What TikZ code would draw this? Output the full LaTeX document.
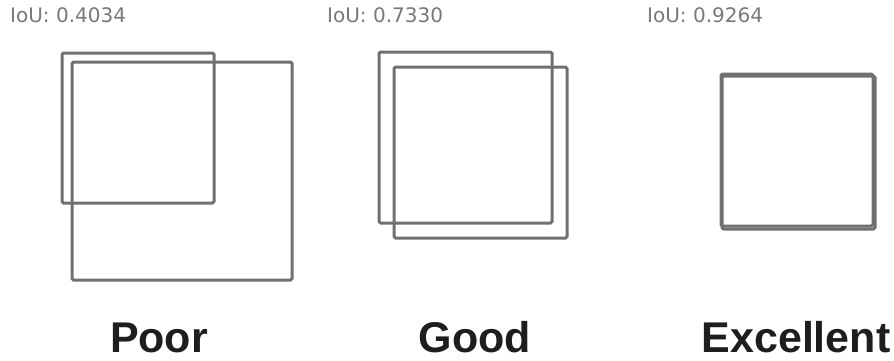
\documentclass[tikz,border=0pt]{standalone}
\usepackage{fontspec}
\setmainfont{Liberation Sans}
\newfontfamily\ioufont{DejaVu Sans}
\usetikzlibrary{positioning}

\definecolor{boxgray}{RGB}{112,112,112}
\definecolor{labelgray}{RGB}{120,120,120}
\definecolor{verdictblack}{RGB}{30,30,30}

\begin{document}
\begin{tikzpicture}[
  x=1pt,
  y=-1pt,
  box/.style={draw=boxgray, line width=3pt, rounded corners=1.5pt},
  iou/.style={anchor=base west, inner sep=0pt, text=labelgray, font=\ioufont\fontsize{20}{20}\selectfont},
  verdict/.style={anchor=base, inner sep=0pt, text=verdictblack, font=\bfseries\fontsize{43}{43}\selectfont}
]
  \useasboundingbox (0,0) rectangle (894,360);

  % poor
  \node[iou] (iou1) at (10, 22) {IoU:\ 0.4034};
  \draw[box] (62, 53) rectangle (214, 203);
  \draw[box] (72, 62) rectangle (292, 280);
  \node[verdict] (poor) at (159, 352) {Poor};

  % good
  \node[iou] (iou2) at (327, 22) {IoU:\ 0.7330};
  \draw[box] (379, 52) rectangle (552, 223);
  \draw[box] (394, 67) rectangle (567, 238);
  \node[verdict] (good) at (475, 352) {Good};

  % excellent
  \node[iou] (iou3) at (647, 22) {IoU:\ 0.9264};
  \draw[box] (722, 76) rectangle (875, 229);
  \draw[box] (721, 74) rectangle (873, 226);
  \node[verdict] (excellent) at (796, 352) {Excellent};
\end{tikzpicture}
\end{document}
